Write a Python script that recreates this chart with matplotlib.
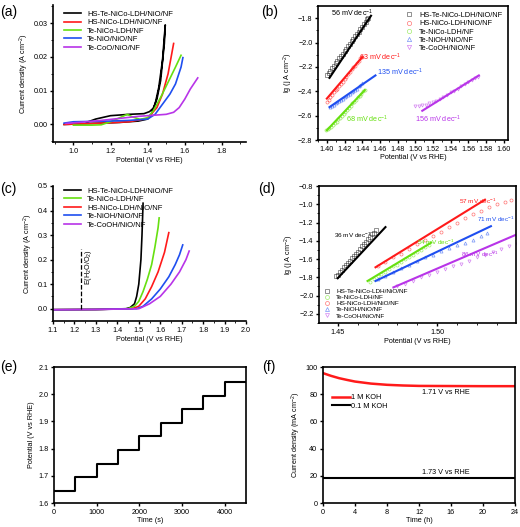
import numpy as np
import matplotlib
matplotlib.use("Agg")
import matplotlib.pyplot as plt
from matplotlib.ticker import MultipleLocator

plt.rcParams['font.family'] = ['Liberation Sans', 'DejaVu Sans']
plt.rcParams['font.size'] = 5
plt.rcParams['axes.linewidth'] = 1.2
plt.rcParams['xtick.major.width'] = 1.0
plt.rcParams['ytick.major.width'] = 1.0
plt.rcParams['xtick.major.size'] = 2.5
plt.rcParams['ytick.major.size'] = 2.5
plt.rcParams['xtick.minor.size'] = 1.5
plt.rcParams['ytick.minor.size'] = 1.5
plt.rcParams['xtick.major.pad'] = 1.5
plt.rcParams['ytick.major.pad'] = 1.5
plt.rcParams['xtick.labelsize'] = 5.2
plt.rcParams['ytick.labelsize'] = 5.2
plt.rcParams['mathtext.default'] = 'regular'

BLACK = '#000000'
RED = '#ff1a1a'
GREEN = '#66e010'
BLUE = '#1f4ff0'
PURPLE = '#b834e8'
LBL = 5.2

# ---------- (a) LSV/CV, low current ----------
a_labels = ['HS-Te-NiCo-LDH/NiO/NF', 'HS-NiCo-LDH/NiO/NF', 'Te-NiCo-LDH/NF',
            'Te-NiO/NiO/NF', 'Te-CoO/NiO/NF']
a_black_x = [0.95, 1.05, 1.15, 1.25, 1.35, 1.40, 1.42, 1.44, 1.46, 1.48, 1.495,
             1.49, 1.47, 1.45, 1.43, 1.41, 1.38, 1.30, 1.20, 1.12, 1.07]
a_black_y = [0.000, 0.0002, 0.0004, 0.0006, 0.0010, 0.0016, 0.0030, 0.0060, 0.0110, 0.0190, 0.0295,
             0.0240, 0.0130, 0.0075, 0.0048, 0.0038, 0.0032, 0.0030, 0.0026, 0.0016, 0.0006]
a_red_x = [0.95, 1.10, 1.20, 1.30, 1.40, 1.45, 1.48, 1.51, 1.53, 1.54]
a_red_y = [0.0, 0.0003, 0.0005, 0.0008, 0.0018, 0.0050, 0.0090, 0.0150, 0.0210, 0.0240]
a_green_x = [1.00, 1.10, 1.15, 1.20, 1.25, 1.29, 1.32, 1.36, 1.40, 1.43, 1.47, 1.51, 1.55, 1.58]
a_green_y = [-0.0002, -0.0002, -0.0001, 0.0008, 0.0020, 0.0030, 0.0022, 0.0015, 0.0020, 0.0040,
             0.0080, 0.0125, 0.0170, 0.0205]
a_blue_x = [0.95, 1.00, 1.10, 1.20, 1.30, 1.40, 1.44, 1.48, 1.52, 1.55, 1.58, 1.59]
a_blue_y = [0.0004, 0.0008, 0.0009, 0.0010, 0.0012, 0.0016, 0.0030, 0.0060, 0.0090, 0.0120, 0.0170, 0.0198]
a_purple_x = [0.96, 1.05, 1.15, 1.25, 1.35, 1.45, 1.50, 1.54, 1.57, 1.60, 1.63, 1.67]
a_purple_y = [0.0003, 0.0007, 0.0012, 0.0018, 0.0024, 0.0028, 0.0030, 0.0036, 0.0050, 0.0075, 0.0105, 0.0138]

# ---------- (b) Tafel, low current ----------
b_labels = ['HS-Te-NiCo-LDH/NiO/NF', 'HS-NiCo-LDH/NiO/NF', 'Te-NiCo-LDH/NF',
            'Te-NiOH/NiO/NF', 'Te-CoOH/NiO/NF']
b_black_x = [1.400, 1.402, 1.404, 1.406, 1.408, 1.410, 1.412, 1.414, 1.416, 1.418, 1.420, 1.422, 1.424, 1.426,
             1.428, 1.430, 1.432, 1.434, 1.436, 1.438, 1.440, 1.442, 1.444, 1.446, 1.447]
b_black_y = [-2.27, -2.25, -2.23, -2.21, -2.19, -2.17, -2.15, -2.13, -2.11, -2.09, -2.07, -2.05, -2.03, -2.01,
             -1.99, -1.97, -1.95, -1.93, -1.91, -1.89, -1.87, -1.85, -1.83, -1.81, -1.80]
b_black_fit = ([1.403, 1.450], [-2.29, -1.78])
b_red_x = [1.400, 1.402, 1.404, 1.406, 1.408, 1.410, 1.412, 1.414, 1.416, 1.418, 1.420, 1.422, 1.424, 1.426,
           1.428, 1.430, 1.432, 1.434, 1.436, 1.438, 1.440]
b_red_y = [-2.49, -2.47, -2.45, -2.43, -2.41, -2.39, -2.38, -2.36, -2.34, -2.32, -2.30, -2.28, -2.26, -2.24,
           -2.22, -2.20, -2.19, -2.17, -2.15, -2.13, -2.12]
b_red_fit = ([1.400, 1.440], [-2.46, -2.12])
b_green_x = [1.399, 1.401, 1.403, 1.405, 1.407, 1.409, 1.411, 1.413, 1.415, 1.417, 1.419, 1.421, 1.423, 1.425,
             1.427, 1.429, 1.431, 1.433, 1.435, 1.437, 1.439, 1.441, 1.443]
b_green_y = [-2.72, -2.71, -2.70, -2.69, -2.68, -2.66, -2.65, -2.63, -2.62, -2.60, -2.59, -2.57, -2.55, -2.54,
             -2.52, -2.50, -2.49, -2.47, -2.45, -2.44, -2.42, -2.40, -2.39]
b_green_fit = ([1.400, 1.443], [-2.72, -2.39])
b_blue_x = [1.404, 1.406, 1.408, 1.410, 1.412, 1.414, 1.416, 1.418, 1.420, 1.422, 1.424, 1.426, 1.428, 1.430,
            1.432, 1.434, 1.436, 1.438, 1.440]
b_blue_y = [-2.53, -2.52, -2.51, -2.50, -2.49, -2.48, -2.47, -2.46, -2.45, -2.44, -2.43, -2.42, -2.41, -2.40,
            -2.39, -2.38, -2.36, -2.35, -2.33]
b_blue_fit = ([1.403, 1.455], [-2.53, -2.27])
b_purple_x = [1.500, 1.504, 1.508, 1.512, 1.516, 1.520, 1.524, 1.528, 1.532, 1.536, 1.540, 1.544, 1.548,
              1.552, 1.556, 1.560, 1.564, 1.568, 1.571]
b_purple_y = [-2.52, -2.52, -2.51, -2.51, -2.50, -2.49, -2.48, -2.46, -2.45, -2.43, -2.41, -2.40, -2.38,
              -2.36, -2.34, -2.32, -2.31, -2.29, -2.28]
b_purple_fit = ([1.508, 1.572], [-2.56, -2.27])
b_slopes = ['56', '63', '68', '135', '156']

# ---------- (c) LSV, high current ----------
c_labels = ['HS-Te-NiCo-LDH/NiO/NF', 'Te-NiCo-LDH/NF', 'HS-NiCo-LDH/NiO/NF',
            'Te-NiOH/NiO/NF', 'Te-CoOH/NiO/NF']
c_black_x = [1.10, 1.30, 1.44, 1.46, 1.48, 1.49, 1.50, 1.51, 1.515, 1.52]
c_black_y = [-0.004, -0.003, 0.0, 0.005, 0.02, 0.05, 0.10, 0.20, 0.30, 0.43]
c_green_x = [1.10, 1.30, 1.45, 1.48, 1.50, 1.52, 1.54, 1.56, 1.575, 1.59, 1.595]
c_green_y = [-0.004, -0.003, 0.0, 0.01, 0.03, 0.07, 0.12, 0.18, 0.25, 0.33, 0.37]
c_red_x = [1.10, 1.30, 1.47, 1.50, 1.53, 1.56, 1.59, 1.62, 1.64]
c_red_y = [-0.004, -0.003, 0.0, 0.01, 0.04, 0.09, 0.15, 0.23, 0.31]
c_blue_x = [1.10, 1.30, 1.49, 1.52, 1.56, 1.60, 1.64, 1.67, 1.69, 1.705]
c_blue_y = [-0.004, -0.003, 0.0, 0.01, 0.04, 0.08, 0.13, 0.18, 0.22, 0.26]
c_purple_x = [1.10, 1.30, 1.50, 1.55, 1.60, 1.65, 1.69, 1.72, 1.735]
c_purple_y = [-0.004, -0.003, 0.0, 0.02, 0.05, 0.10, 0.15, 0.20, 0.235]
e_h2o = 1.23

# ---------- (d) Tafel, high current ----------
d_labels = ['HS-Te-NiCo-LDH/NiO/NF', 'Te-NiCo-LDH/NF', 'HS-NiCo-LDH/NiO/NF',
            'Te-NiOH/NiO/NF', 'Te-CoOH/NiO/NF']
d_black_x = [1.449, 1.450, 1.451, 1.452, 1.453, 1.454, 1.455, 1.456, 1.457, 1.458, 1.459, 1.460, 1.461,
             1.462, 1.463, 1.464, 1.465, 1.466, 1.467, 1.468, 1.469]
d_black_y = [-1.79, -1.77, -1.74, -1.72, -1.69, -1.67, -1.64, -1.62, -1.59, -1.57, -1.54, -1.52, -1.49,
             -1.46, -1.44, -1.41, -1.38, -1.36, -1.33, -1.31, -1.28]
d_black_fit = ([1.450, 1.474], [-1.81, -1.25])
d_green_x = [1.466, 1.468, 1.470, 1.472, 1.474, 1.476, 1.478, 1.480, 1.482, 1.484, 1.486, 1.488, 1.490,
             1.492, 1.494, 1.496]
d_green_y = [-1.85, -1.82, -1.79, -1.76, -1.74, -1.71, -1.68, -1.66, -1.63, -1.60, -1.58, -1.55, -1.52,
             -1.50, -1.47, -1.45]
d_green_fit = ([1.465, 1.497], [-1.84, -1.42])
d_red_x = [1.470, 1.474, 1.478, 1.482, 1.486, 1.490, 1.494, 1.498, 1.502, 1.506, 1.510, 1.514, 1.518,
           1.522, 1.526, 1.530, 1.534, 1.537]
d_red_y = [-1.68, -1.63, -1.58, -1.54, -1.49, -1.44, -1.39, -1.35, -1.30, -1.25, -1.20, -1.15, -1.11,
           -1.07, -1.03, -1.00, -0.97, -0.95]
d_red_fit = ([1.469, 1.524], [-1.69, -0.95])
d_blue_x = [1.470, 1.474, 1.478, 1.482, 1.486, 1.490, 1.494, 1.498, 1.502, 1.506, 1.510, 1.514, 1.518,
            1.522, 1.525]
d_blue_y = [-1.82, -1.78, -1.74, -1.70, -1.66, -1.62, -1.58, -1.55, -1.51, -1.48, -1.45, -1.42, -1.39,
            -1.35, -1.32]
d_blue_fit = ([1.469, 1.527], [-1.84, -1.24])
d_purple_x = [1.480, 1.484, 1.488, 1.492, 1.496, 1.500, 1.504, 1.508, 1.512, 1.516, 1.520, 1.524, 1.528,
              1.532, 1.536, 1.540]
d_purple_y = [-1.90, -1.87, -1.84, -1.80, -1.77, -1.74, -1.71, -1.68, -1.65, -1.62, -1.58, -1.55, -1.52,
              -1.49, -1.46, -1.43]
d_purple_fit = ([1.478, 1.540], [-1.91, -1.33])
d_slopes = ['36', '54', '57', '71', '86']

# ---------- (e) multistep chronopotentiometry ----------
e_time = [0, 500, 1000, 1500, 2000, 2500, 3000, 3500, 4000, 4500]
e_pot = [1.645, 1.695, 1.745, 1.795, 1.845, 1.895, 1.945, 1.995, 2.045, 2.045]

# ---------- (f) stability ----------
f_time_1m = [0, 0.5, 1, 2, 3, 4, 6, 8, 10, 12, 16, 20, 24]
f_j_1m = [95.5, 94.5, 93.5, 91.8, 90.5, 89.3, 87.8, 86.9, 86.4, 86.1, 86.0, 85.9, 85.9]
f_time_01m = [0, 24]
f_j_01m = [18.5, 18.5]

W, H = 520, 527
fig = plt.figure(figsize=(W / 100, H / 100), dpi=100)


def ax_at(l, t, r, b):
    return fig.add_axes([l / W, 1 - b / H, (r - l) / W, (b - t) / H])


def open_spines(ax):
    ax.spines['top'].set_visible(False)
    ax.spines['right'].set_visible(False)


def panel_label(x, y, s):
    fig.text(x / W, 1 - y / H, s, fontsize=10, va='center', ha='left')


dec = r' mV dec$^{-1}$'

# (a)
ax = ax_at(53, 5, 246, 142)
open_spines(ax)
for xs, ys, c, lab in zip([a_black_x, a_red_x, a_green_x, a_blue_x, a_purple_x],
                          [a_black_y, a_red_y, a_green_y, a_blue_y, a_purple_y],
                          [BLACK, RED, GREEN, BLUE, PURPLE], a_labels):
    ax.plot(xs, ys, color=c, lw=1.2, label=lab)
ax.set_xlim(0.89, 1.93)
ax.set_ylim(-0.0052, 0.0354)
ax.xaxis.set_major_locator(MultipleLocator(0.2))
ax.xaxis.set_minor_locator(MultipleLocator(0.1))
ax.yaxis.set_major_locator(MultipleLocator(0.01))
ax.yaxis.set_minor_locator(MultipleLocator(0.005))
ax.yaxis.set_major_formatter(plt.FormatStrFormatter('%.2f'))
ax.set_xlabel('Potential (V vs RHE)', fontsize=LBL, labelpad=2)
ax.set_ylabel(r'Current density (A cm$^{-2}$)', fontsize=LBL, labelpad=2)
ax.legend(loc='upper left', bbox_to_anchor=(0.03, 1.0), frameon=False, fontsize=5.5,
          handlelength=2.2, labelspacing=0.15, borderaxespad=0.3)
panel_label(0, 12, '(a)')

# (b)
ax = ax_at(318, 6, 508, 140)
mk = ['s', 'o', 'o', '^', 'v']
for (xs, ys, fit), c, m, lab in zip(
        [(b_black_x, b_black_y, b_black_fit), (b_red_x, b_red_y, b_red_fit),
         (b_green_x, b_green_y, b_green_fit), (b_blue_x, b_blue_y, b_blue_fit),
         (b_purple_x, b_purple_y, b_purple_fit)],
        [BLACK, RED, GREEN, BLUE, PURPLE], mk, b_labels):
    ax.plot(xs, ys, ls='none', marker=m, ms=2.2, mfc='none', mec=c, mew=0.5, alpha=0.6, label=lab)
    ax.plot(fit[0], fit[1], color=c, lw=1.5)
ax.text(1.405, -1.79, b_slopes[0] + dec, color=BLACK, fontsize=5.2)
ax.text(1.436, -2.15, b_slopes[1] + dec, color=RED, fontsize=5.2)
ax.text(1.422, -2.66, b_slopes[2] + dec, color=GREEN, fontsize=5.2)
ax.text(1.457, -2.27, b_slopes[3] + dec, color=BLUE, fontsize=5.2)
ax.text(1.500, -2.66, b_slopes[4] + dec, color=PURPLE, fontsize=5.2)
ax.set_xlim(1.39, 1.605)
ax.set_ylim(-2.8, -1.7)
ax.xaxis.set_major_locator(MultipleLocator(0.02))
ax.xaxis.set_minor_locator(MultipleLocator(0.01))
ax.yaxis.set_major_locator(MultipleLocator(0.2))
ax.yaxis.set_minor_locator(MultipleLocator(0.1))
ax.set_xlabel('Potential (V vs RHE)', fontsize=LBL, labelpad=1)
ax.set_ylabel(r'lg (j A cm$^{-2}$)', fontsize=LBL, labelpad=2)
ax.legend(loc='upper right', frameon=False, fontsize=5.3, handlelength=1.2,
          labelspacing=0.15, borderaxespad=0.4, markerscale=1.4)
panel_label(261, 12, '(b)')

# (c)
ax = ax_at(53, 186, 246, 321)
open_spines(ax)
for xs, ys, c, lab in zip([c_black_x, c_green_x, c_red_x, c_blue_x, c_purple_x],
                          [c_black_y, c_green_y, c_red_y, c_blue_y, c_purple_y],
                          [BLACK, GREEN, RED, BLUE, PURPLE], c_labels):
    ax.plot(xs, ys, color=c, lw=1.2, label=lab)
ax.plot([e_h2o, e_h2o], [0, 0.245], color=BLACK, ls='--', lw=0.9)
ax.text(e_h2o + 0.01, 0.17, r'E(H$_2$O/O$_2$)', rotation=90, fontsize=5.2, va='center', ha='left')
ax.set_xlim(1.1, 2.0)
ax.set_ylim(-0.05, 0.5)
ax.xaxis.set_major_locator(MultipleLocator(0.1))
ax.xaxis.set_minor_locator(MultipleLocator(0.05))
ax.yaxis.set_major_locator(MultipleLocator(0.1))
ax.yaxis.set_minor_locator(MultipleLocator(0.05))
ax.set_xlabel('Potential (V vs RHE)', fontsize=LBL, labelpad=2)
ax.set_ylabel(r'Current density (A cm$^{-2}$)', fontsize=LBL, labelpad=2)
ax.legend(loc='upper left', bbox_to_anchor=(0.03, 1.03), frameon=False, fontsize=5.5,
          handlelength=2.2, labelspacing=0.15, borderaxespad=0.3)
panel_label(0, 189, '(c)')

# (d)
ax = ax_at(319, 186, 516, 323)
for (xs, ys, fit), c, m, lab in zip(
        [(d_black_x, d_black_y, d_black_fit), (d_green_x, d_green_y, d_green_fit),
         (d_red_x, d_red_y, d_red_fit), (d_blue_x, d_blue_y, d_blue_fit),
         (d_purple_x, d_purple_y, d_purple_fit)],
        [BLACK, GREEN, RED, BLUE, PURPLE], ['s', 'o', 'o', '^', 'v'], d_labels):
    ax.plot(xs, ys, ls='none', marker=m, ms=2.2, mfc='none', mec=c, mew=0.5, alpha=0.6, label=lab)
    ax.plot(fit[0], fit[1], color=c, lw=1.5)
ax.text(1.448, -1.37, d_slopes[0] + dec, color=BLACK, fontsize=4.6)
ax.text(1.490, -1.44, d_slopes[1] + dec, color=GREEN, fontsize=4.6)
ax.text(1.511, -0.99, d_slopes[2] + dec, color=RED, fontsize=4.6)
ax.text(1.520, -1.19, d_slopes[3] + dec, color=BLUE, fontsize=4.6)
ax.text(1.512, -1.58, d_slopes[4] + dec, color=PURPLE, fontsize=4.6)
ax.set_xlim(1.4406, 1.5396)
ax.set_ylim(-2.3, -0.8)
ax.xaxis.set_major_locator(MultipleLocator(0.05))
ax.xaxis.set_minor_locator(MultipleLocator(0.01))
ax.yaxis.set_major_locator(MultipleLocator(0.2))
ax.yaxis.set_minor_locator(MultipleLocator(0.1))
ax.xaxis.set_major_formatter(plt.FormatStrFormatter('%.2f'))
ax.set_xlabel('Potential (V vs RHE)', fontsize=LBL, labelpad=2)
ax.set_ylabel(r'lg (j A cm$^{-2}$)', fontsize=LBL, labelpad=2)
ax.legend(loc='lower left', frameon=False, fontsize=4.6, handlelength=1.2,
          labelspacing=0.1, borderaxespad=0.3, markerscale=1.3)
panel_label(258, 189, '(d)')

# (e)
ax = ax_at(54, 367, 246, 503)
ax.plot(e_time, e_pot, color=BLACK, lw=1.5, drawstyle='steps-post')
ax.set_xlim(0, 4500)
ax.set_ylim(1.6, 2.1)
ax.xaxis.set_major_locator(MultipleLocator(1000))
ax.yaxis.set_major_locator(MultipleLocator(0.1))
ax.set_xlabel('Time (s)', fontsize=LBL, labelpad=1)
ax.set_ylabel('Potential (V vs RHE)', fontsize=LBL, labelpad=2)
panel_label(0, 367, '(e)')

# (f)
ax = ax_at(323, 367, 515, 503)
ax.plot(f_time_1m, f_j_1m, color=RED, lw=1.8, label='1 M KOH')
ax.plot(f_time_01m, f_j_01m, color=BLACK, lw=1.5, label='0.1 M KOH')
ax.text(15.3, 80, '1.71 V vs RHE', fontsize=5.2, ha='center')
ax.text(15.3, 21.5, '1.73 V vs RHE', fontsize=5.2, ha='center')
ax.set_xlim(0, 24)
ax.set_ylim(0, 100)
ax.xaxis.set_major_locator(MultipleLocator(4))
ax.yaxis.set_major_locator(MultipleLocator(20))
ax.set_xlabel('Time (h)', fontsize=LBL, labelpad=1)
ax.set_ylabel(r'Current density (mA cm$^{-2}$)', fontsize=LBL, labelpad=2)
ax.legend(loc='upper left', bbox_to_anchor=(0.01, 0.85), frameon=False, fontsize=5.3,
          handlelength=2.5, labelspacing=0.2, handletextpad=0.2)
panel_label(262, 367, '(f)')

fig.savefig('out.png', dpi=100)
